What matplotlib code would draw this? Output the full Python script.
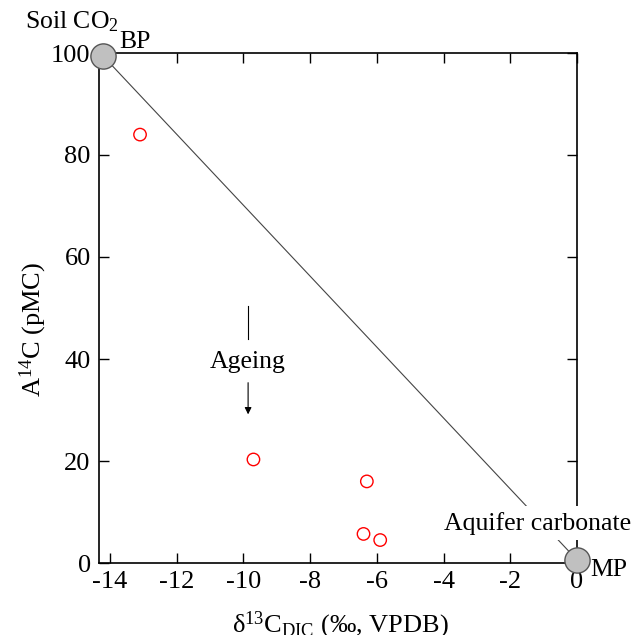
import matplotlib
matplotlib.use("Agg")
import matplotlib.pyplot as plt

plt.rcParams['font.family'] = ['Liberation Serif', 'DejaVu Serif']
plt.rcParams['mathtext.fontset'] = 'custom'
plt.rcParams['mathtext.rm'] = 'Liberation Serif'
plt.rcParams['mathtext.it'] = 'Liberation Serif'

# Data
d13c = [-13.1, -9.7, -6.3, -6.4, -5.9]
a14c = [84.0, 20.3, 16.0, 5.7, 4.5]
end_x = [-14.22, 0.0]
end_y = [99.5, 0.6]
xticks = [-14, -12, -10, -8, -6, -4, -2, 0]
yticks = [0, 20, 40, 60, 80, 100]

W, H = 632, 635
fig = plt.figure(figsize=(W/100, H/100), dpi=100)
ax = fig.add_axes([99/W, 1-563/H, (577-99)/W, (563-53)/H])

ax.plot(end_x, end_y, color='#444444', lw=0.8, zorder=2)
ax.scatter(d13c, a14c, s=80, facecolors='none', edgecolors='red', linewidths=1.0, zorder=3)
ax.scatter(end_x, end_y, s=330, facecolor='#c0c0c0', edgecolor='#555555', linewidths=1.0, zorder=5, clip_on=False)

ax.set_xlim(-14.33, 0)
ax.set_ylim(0, 100)
ax.set_xticks(xticks)
ax.set_yticks(yticks)
ax.set_xticklabels([str(t) for t in xticks])
ax.tick_params(direction='in', length=7, width=1, labelsize=19, top=True, right=True, pad=6)
for s in ax.spines.values():
    s.set_linewidth(1.2)

fig.text(340/W, 1-632/H, r'$\mathrm{\delta^{13}C_{DIC}}$ (‰, VPDB)', fontsize=19,
         ha='center', va='baseline')
fig.text(33/W, 1-329/H, r'$\mathrm{A^{14}C}$ (pMC)', fontsize=19, rotation=90,
         ha='center', va='center')

# Annotations
ax.plot([-9.86, -9.86], [50.4, 43.9], color='black', lw=0.8)
ax.text(-9.86, 39.4, 'Ageing', fontsize=18.5, ha='center', va='center')
ax.annotate('', xy=(-9.86, 28.6), xytext=(-9.86, 35.9),
            arrowprops=dict(arrowstyle='-|>', color='black', lw=0.8, mutation_scale=10))

fig.text(25/W, 1-28/H, r'Soil CO$_2$', fontsize=18.5, ha='left', va='baseline')
fig.text(119/W, 1-48/H, 'BP', fontsize=18.5, ha='left', va='baseline')
ax.text(-4.0, 7.8, 'Aquifer carbonate', fontsize=18.5, ha='left', va='center',
        bbox=dict(facecolor='white', edgecolor='none', pad=4), zorder=4, clip_on=False)
fig.text(590/W, 1-570/H, 'MP', fontsize=18.5, ha='left', va='center')

fig.savefig('out.png', dpi=100)
